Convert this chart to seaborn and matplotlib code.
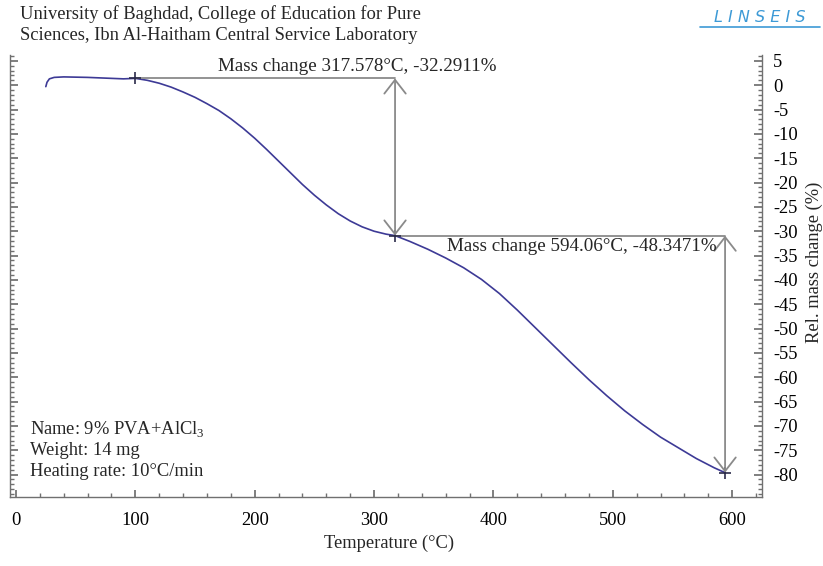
import numpy as np
import pandas as pd
import matplotlib
matplotlib.use("Agg")
import matplotlib.pyplot as plt
from matplotlib.ticker import MultipleLocator
from matplotlib.lines import Line2D
import seaborn as sns

# ---- data ----
temperature = [25, 26, 28, 32, 40, 60, 80, 90, 100, 110, 120, 130, 140, 150, 160, 170,
               180, 190, 200, 210, 220, 230, 240, 250, 260, 270, 280, 290, 300, 310,
               317.578, 330, 345, 360, 375, 390, 405, 420, 435, 450, 465, 480, 495, 510,
               525, 540, 555, 570, 585, 594.06]
mass_change = [-0.3, 0.6, 1.3, 1.6, 1.7, 1.6, 1.4, 1.3, 1.4, 1.0, 0.4, -0.4, -1.4, -2.5,
               -3.8, -5.2, -6.9, -8.8, -10.9, -13.2, -15.6, -18.0, -20.4, -22.6, -24.6,
               -26.4, -27.9, -29.1, -30.0, -30.6, -30.9, -32.1, -33.7, -35.5, -37.5,
               -39.9, -42.8, -46.2, -49.8, -53.4, -57.0, -60.5, -63.8, -66.9, -69.7,
               -72.3, -74.5, -76.7, -78.6, -79.6]
step_temps = [100, 317.578, 594.06]
step_values = [1.4, -30.9, -79.6]
step_labels = ["Mass change 317.578°C, -32.2911%", "Mass change 594.06°C, -48.3471%"]
info_lines = ["Name: 9% PVA+AlCl$_{3}$", "Weight: 14 mg", "Heating rate: 10°C/min"]
x_ticks = [0, 100, 200, 300, 400, 500, 600]
y_ticks = list(range(5, -85, -5))

sns.set_theme(style="white")
plt.rcParams['font.family'] = ['Liberation Serif', 'DejaVu Serif']
plt.rcParams['mathtext.fontset'] = 'custom'
plt.rcParams['mathtext.rm'] = 'Liberation Serif'
plt.rcParams['axes.unicode_minus'] = False

FS = 13.3
fig = plt.figure(figsize=(8.23, 5.66), dpi=100)
ax = fig.add_axes([10/823, 1-497/566, (762-10)/823, (497-55)/566])

df = pd.DataFrame({"T": temperature, "m": mass_change})
sns.lineplot(data=df, x="T", y="m", ax=ax, color="#3d3a96", lw=1.2)

ax.set_xlim(-5, 625)
ax.set_ylim(-84.6, 6.2)

# step annotations
gray = "#8a8a8a"
ax.plot([step_temps[0], step_temps[1]], [step_values[0], step_values[0]], color=gray, lw=1.3)
ax.plot([step_temps[1], step_temps[2]], [step_values[1], step_values[1]], color=gray, lw=1.3)
for (xa, ya, yb) in [(step_temps[1], step_values[0], step_values[1]),
                     (step_temps[2], step_values[1], step_values[2])]:
    ax.annotate("", xy=(xa, yb), xytext=(xa, ya),
                arrowprops=dict(arrowstyle="<->,head_length=0.45,head_width=0.35",
                                color=gray, lw=1.3,
                                mutation_scale=22, shrinkA=0, shrinkB=0))
ax.plot(step_temps, step_values, ls="none",
        marker="+", ms=8, mew=1.2, color="#2b2b4a")
ax.text(286, step_values[0] + 0.6, step_labels[0], ha="center", va="bottom", fontsize=13.7)
ax.text(587, step_values[1] - 0.4, step_labels[1], ha="right", va="top", fontsize=13.7)

# info box
for yv, line in zip([-70.6, -75.1, -79.4], info_lines):
    ax.text(12, yv, line, fontsize=FS, va="center")

# axes styling
ax.spines["top"].set_visible(False)
for s in ["left", "right", "bottom"]:
    ax.spines[s].set_color("#707070")
    ax.spines[s].set_linewidth(1.0)

ax.set_xticks(x_ticks)
ax.xaxis.set_minor_locator(MultipleLocator(20))
ax.set_yticks(y_ticks)
ax.yaxis.set_minor_locator(MultipleLocator(1))
ax.yaxis.tick_right()
ax.tick_params(axis="y", which="both", left=True, right=True, labelleft=False,
               labelright=True, direction="in", colors="#707070", labelcolor="black",
               labelsize=FS, pad=8)
ax.tick_params(axis="y", which="major", length=6)
ax.tick_params(axis="y", which="minor", length=3)
ax.tick_params(axis="x", which="both", bottom=True, direction="in", colors="#707070",
               labelcolor="black", labelsize=FS, pad=11)
ax.tick_params(axis="x", which="major", length=5)
ax.tick_params(axis="x", which="minor", length=3)
for lbl in ax.get_yticklabels():
    lbl.set_horizontalalignment("left")
ax.set_xlabel("")
ax.set_ylabel("")

fig.text(389/823, 1-543/566, "Temperature (°C)", ha="center", va="center", fontsize=FS)
fig.text(814/823, 1-262/566, "Rel. mass change (%)", ha="center", va="center",
         rotation=90, fontsize=FS)

fig.text(20/823, 1-14/566, "University of Baghdad, College of Education for Pure",
         ha="left", va="center", fontsize=FS)
fig.text(20/823, 1-35/566, "Sciences, Ibn Al-Haitham Central Service Laboratory",
         ha="left", va="center", fontsize=FS)

# logo
fig.text(760/823, 1-17/566, "L I N S E I S", ha="center", va="center", fontsize=11.5,
         style="italic", color="#3d9ad6", family=["DejaVu Sans"], fontweight="light")
fig.add_artist(Line2D([700/823, 820/823], [1-27/566, 1-27/566], transform=fig.transFigure,
                      color="#3d9ad6", lw=1.2))

fig.savefig("out.png", dpi=100)
